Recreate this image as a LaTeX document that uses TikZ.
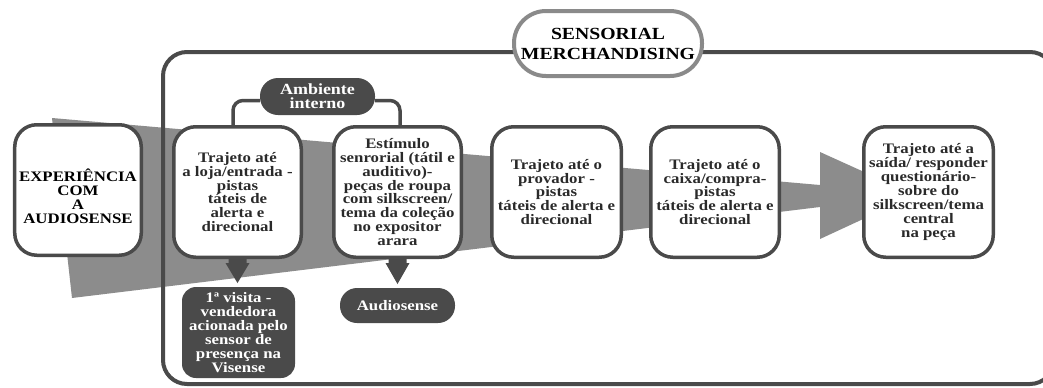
\documentclass[tikz,border=0pt]{standalone}
\usepackage{fontspec}
\setmainfont{Liberation Serif}[FakeStretch=1.16]
\definecolor{dk}{HTML}{4A4A4A}
\definecolor{ar}{HTML}{8C8C8C}
\definecolor{tx}{HTML}{2A2A2A}
\definecolor{sm}{HTML}{8A8A8A}
\newcommand\boxfont{\fontsize{14.5bp}{13.9bp}\selectfont\bfseries}
\newcommand\bigfont{\fontsize{17bp}{20bp}\selectfont\bfseries}
\newcommand\ambfont{\fontsize{15.5bp}{14bp}\selectfont\bfseries}
\tikzset{
  box/.style={draw=dk, line width=3.5bp, fill=white, rounded corners=22bp,
    minimum width=127.5bp, minimum height=130.5bp, align=center,
    font=\boxfont, text=tx, inner sep=0pt},
  darknode/.style={fill=dk, text=white, align=center, inner sep=0pt, font=\boxfont},
  downarrow/.style={fill=dk},
  bracket/.style={draw=dk, line width=3.5bp, rounded corners=10bp}
}
\begin{document}
\begin{tikzpicture}[x=1bp,y=-1bp]
\useasboundingbox (0,0) rectangle (1043,387);
\clip (0,0) rectangle (1043,387);
\fill[white] (0,0) rectangle (1043,387);
% big gray arrow
\fill[ar] (52,118) -- (820,185) -- (820,152) -- (915,195) -- (820,239) -- (820,207) -- (72,298) -- cycle;
% frame
\draw[dk, line width=4bp, rounded corners=24bp] (163,52) rectangle (1054,384);
% boxes
\node[box, minimum width=126.5bp, minimum height=130.5bp] (b0) at (78,190) {};
\node[font=\boxfont, text=black, align=center, inner sep=0pt] (t0) at (78,196) {EXPERIÊNCIA\\COM\\A\\AUDIOSENSE};
\node[box] (b1) at (237.5,192) {Trajeto até\\a loja/entrada -\\pistas\\táteis de\\alerta e\\direcional};
\node[box] (b2) at (397.5,192) {Estímulo\\senrorial (tátil e\\auditivo)-\\peças de roupa\\com silkscreen/\\tema da coleção\\no expositor\\arara};
\node[box, minimum width=129.5bp] (b3) at (556.5,192) {Trajeto até o\\provador -\\pistas\\táteis de alerta e\\direcional};
\node[box, minimum width=128.5bp] (b4) at (715,192) {Trajeto até o\\caixa/compra-\\pistas\\táteis de alerta e\\direcional};
\node[box, minimum width=129.5bp] (b5) at (928.5,192) {Trajeto até a\\saída/ responder\\questionário-\\sobre do\\silkscreen/tema\\central\\na peça};
% ambiente interno
\node[darknode, font=\ambfont, minimum width=115bp, minimum height=37bp, rounded corners=18bp] (amb) at (317.5,96.5) {Ambiente\\interno};
\coordinate (bl) at (233,127);
\coordinate (br) at (400,127);
\draw[bracket] (bl) |- ([yshift=-4bp]amb.west);
\draw[bracket] ([yshift=-4bp]amb.east) -| (br);
% down arrows
\fill[downarrow, shift={(b1.south)}] (-9,-2) -- (9,-2) -- (9,4) -- (12,4) -- (0,24) -- (-12,4) -- (-9,4) -- cycle;
\fill[downarrow, shift={(b2.south)}] (-9,-2) -- (9,-2) -- (9,4) -- (12,4) -- (0,25) -- (-12,4) -- (-9,4) -- cycle;
% bottom nodes
\node[darknode, minimum width=113bp, minimum height=91bp, rounded corners=14bp] (vis) at (238.5,332.5) {1ª visita -\\vendedora\\acionada pelo\\sensor de\\presença na\\Visense};
\node[darknode, minimum width=115bp, minimum height=35bp, rounded corners=17bp] (aud) at (397.5,305.5) {Audiosense};
% sensorial merchandising
\node[draw=sm, line width=4bp, fill=white, rounded corners=32bp, minimum width=188bp, minimum height=65bp, align=center, font=\bigfont, text=black, inner sep=0pt] (sens) at (608,43.5) {SENSORIAL\\MERCHANDISING};
\end{tikzpicture}
\end{document}
